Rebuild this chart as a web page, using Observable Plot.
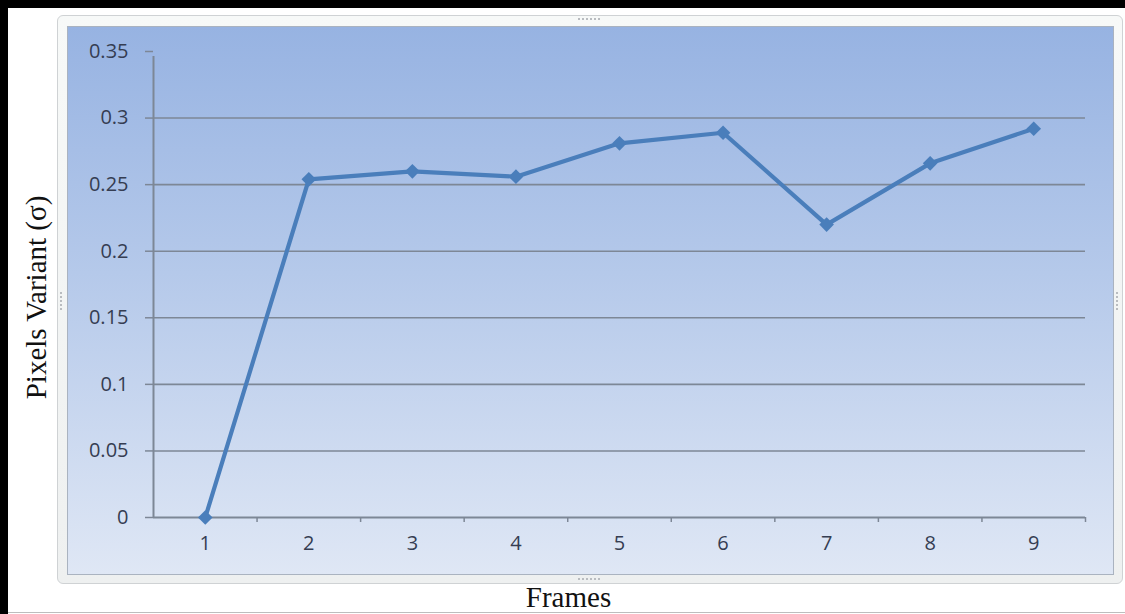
<!DOCTYPE html>
<html>
<head>
<meta charset="utf-8">
<script src="https://cdn.jsdelivr.net/npm/d3@7"></script>
<script src="https://cdn.jsdelivr.net/npm/@observablehq/plot@0.6"></script>
<style>
  body { margin: 0; background: #fff; }
  #wrap { position: relative; width: 1125px; height: 614px; background: #fff; overflow: hidden; }
  .abs { position: absolute; }
  #chart { position: absolute; left: 0; top: 0; }
  .handle { position: absolute; border-style: dotted; border-color: #b9bcc0; border-width: 0; }
</style>
</head>
<body>
<div id="wrap">
  <div class="abs" style="left:0;top:0;width:8px;height:614px;background:#000"></div>
  <div class="abs" style="left:0;top:0;width:1125px;height:8px;background:#000"></div>
  <div class="abs" style="left:8px;top:612px;width:1117px;height:1px;background:#bdbdbd"></div>
  <div class="abs" style="left:57px;top:15px;width:1064px;height:567px;border:1px solid #cfd2d4;border-radius:6px;background:linear-gradient(#f7f9f8,#eef0f0)"></div>
  <div class="abs" style="left:67px;top:26px;width:1045px;height:547px;border:1px solid #aab3c0;background:linear-gradient(180deg,#97b3e2 0%,#b5c9ea 45%,#dfe7f5 100%)"></div>
  <div class="handle" style="left:578px;top:18px;width:22px;height:2px;border-top-width:2px"></div>
  <div class="handle" style="left:578px;top:578px;width:22px;height:2px;border-top-width:2px"></div>
  <div class="handle" style="left:60px;top:292px;width:2px;height:18px;border-left-width:2px"></div>
  <div class="handle" style="left:1116px;top:292px;width:2px;height:18px;border-left-width:2px"></div>
  <div id="chart"></div>
</div>
<script>
const frames = [1, 2, 3, 4, 5, 6, 7, 8, 9];
const variance = [0, 0.254, 0.260, 0.256, 0.281, 0.289, 0.220, 0.266, 0.292];
const yTicks = [0, 0.05, 0.1, 0.15, 0.2, 0.25, 0.3, 0.35];
const yTickLabels = ["0", "0.05", "0.1", "0.15", "0.2", "0.25", "0.3", "0.35"];
const gridTicks = [0.05, 0.1, 0.15, 0.2, 0.25, 0.3];
const xBoundaries = [1.5, 2.5, 3.5, 4.5, 5.5, 6.5, 7.5, 8.5, 9.5];
const xTickLabels = ["1", "2", "3", "4", "5", "6", "7", "8", "9"];
const xLabel = "Frames";
const yLabel = "Pixels Variant (σ)";

const data = frames.map((f, i) => ({frame: f, value: variance[i]}));

const axisGray = "#7d8796";
const textColor = "#353d52";
const lineBlue = "#4a7ebb";
const serif = "'Liberation Serif', 'Times New Roman', serif";

const chart = Plot.plot({
  width: 1125,
  height: 614,
  marginLeft: 153,
  marginRight: 40,
  marginTop: 51,
  marginBottom: 97,
  style: {background: "transparent", fontFamily: "'Open Sans', sans-serif", overflow: "visible"},
  x: {domain: [0.5, 9.5]},
  y: {domain: [0, 0.35]},
  marks: [
    Plot.ruleY(gridTicks, {stroke: axisGray, strokeWidth: 1.6}),
    Plot.ruleY([0], {stroke: axisGray, strokeWidth: 2}),
    Plot.ruleX([0.5], {y1: 0, y2: 0.35, insetBottom: -5, stroke: axisGray, strokeWidth: 2}),
    Plot.axisY({ticks: yTicks, tickSize: 8, tickPadding: 17, label: null,
      tickFormat: d => yTickLabels[yTicks.indexOf(d)],
      stroke: axisGray, fill: textColor, fontSize: 20, strokeWidth: 1.5}),
    Plot.axisX({ticks: xBoundaries, tickSize: 5, label: null, tickFormat: () => "",
      stroke: axisGray, strokeWidth: 1.5}),
    Plot.axisX({ticks: frames, tickSize: 0, tickPadding: 18, label: null,
      tickFormat: d => xTickLabels[frames.indexOf(d)], fill: textColor, fontSize: 20}),
    Plot.line(data, {x: "frame", y: "value", stroke: lineBlue, strokeWidth: 4.2}),
    Plot.dot(data, {x: "frame", y: "value", symbol: "diamond2", r: 6.6, fill: lineBlue, stroke: "none"}),
    Plot.text([yLabel], {frameAnchor: "left", dx: -117, dy: 13, rotate: -90, textAnchor: "middle", lineAnchor: "middle",
      fontFamily: serif, fontSize: 29, fill: "#111"}),
    Plot.text([xLabel], {frameAnchor: "bottom", dx: -51, dy: 80, textAnchor: "middle", lineAnchor: "middle",
      fontFamily: serif, fontSize: 29, fill: "#111"})
  ]
});
document.getElementById("chart").appendChild(chart);
</script>
</body>
</html>
